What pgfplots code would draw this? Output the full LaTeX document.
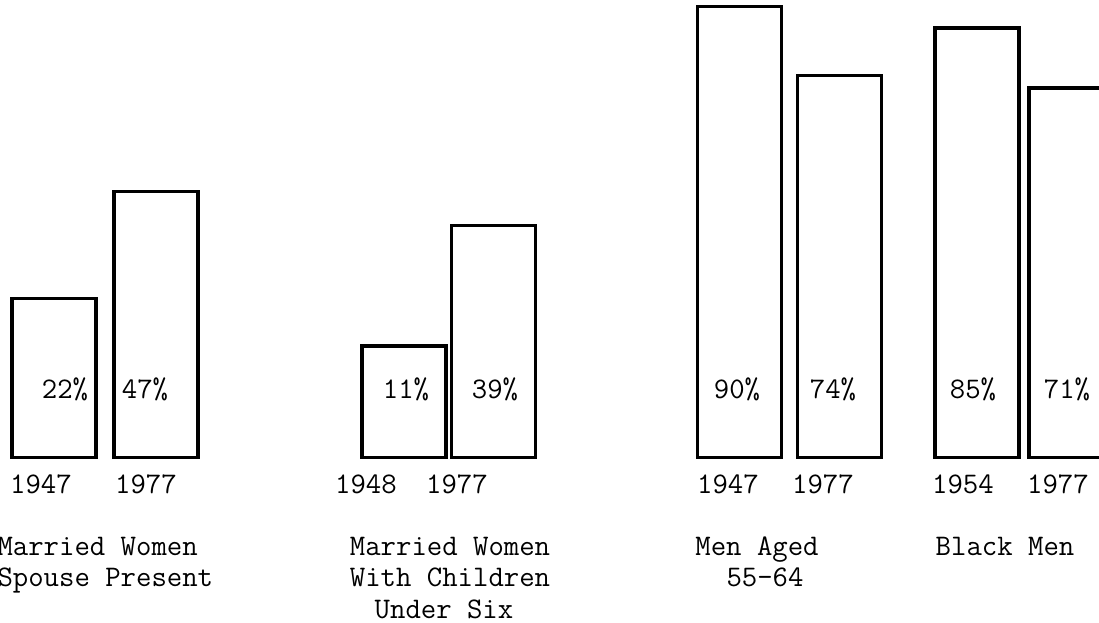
\documentclass[border=0pt]{standalone}
\usepackage{pgfplots}
\pgfplotsset{compat=1.18}
\begin{document}
\begin{tikzpicture}[lbl/.style={font=\fontsize{11.5}{13}\selectfont\ttfamily, inner sep=0pt, anchor=base}]
\begin{axis}[
  scale only axis,
  width=422.7pt, height=239.6pt,
  xmin=0, xmax=1099,
  ymin=-53.4, ymax=91.5,
  hide axis,
  % the drawing does not start its bars at zero
  y coord trafo/.code={\pgfmathparse{#1+15}},
  y coord inv trafo/.code={\pgfmathparse{#1-15}},
]
\addplot[ybar, bar width=84, fill=white, draw=black, line width=1.25pt]
  coordinates {(54,22) (156,47) (404,11) (493.5,39) (739.5,90) (839.5,74) (977,85) (1071,71)};

% percent labels inside the bars
\node[lbl] at (axis cs:65,-1.3) {22\%};
\node[lbl] at (axis cs:145,-1.3) {47\%};
\node[lbl] at (axis cs:406,-1.3) {11\%};
\node[lbl] at (axis cs:495,-1.3) {39\%};
\node[lbl] at (axis cs:737,-1.3) {90\%};
\node[lbl] at (axis cs:833,-1.3) {74\%};
\node[lbl] at (axis cs:973,-1.3) {85\%};
\node[lbl] at (axis cs:1067,-1.3) {71\%};

% years
\node[lbl] at (axis cs:41,-23.4) {1947};
\node[lbl] at (axis cs:146,-23.4) {1977};
\node[lbl] at (axis cs:366,-23.4) {1948};
\node[lbl] at (axis cs:457,-23.4) {1977};
\node[lbl] at (axis cs:728,-23.4) {1947};
\node[lbl] at (axis cs:823,-23.4) {1977};
\node[lbl] at (axis cs:963,-23.4) {1954};
\node[lbl] at (axis cs:1058,-23.4) {1977};

% group names
\node[lbl, anchor=base west] at (axis cs:-3,-37.8) {Married Women};
\node[lbl, anchor=base west] at (axis cs:-3,-45.0) {Spouse Present};
\node[lbl] at (axis cs:450,-37.8) {Married Women};
\node[lbl] at (axis cs:450,-45.0) {With Children};
\node[lbl] at (axis cs:444,-52.4) {Under Six};
\node[lbl] at (axis cs:757,-37.8) {Men Aged};
\node[lbl] at (axis cs:765,-45.0) {55-64};
\node[lbl] at (axis cs:1005,-37.8) {Black Men};
\end{axis}
\pgfresetboundingbox
\path (current axis.south west) rectangle (current axis.north east);
\end{tikzpicture}
\end{document}
